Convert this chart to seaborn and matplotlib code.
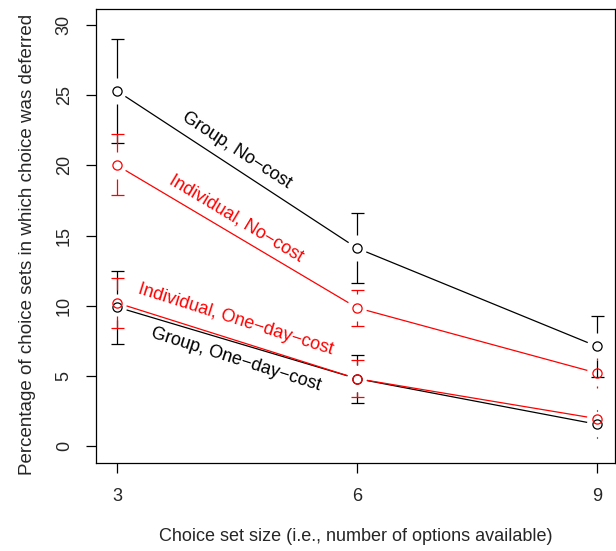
import numpy as np
import pandas as pd
import matplotlib
matplotlib.use("Agg")
import matplotlib.pyplot as plt
import seaborn as sns

# ---- data ----
set_sizes = [3, 6, 9]
group_nocost = [25.3, 14.1, 7.1]
group_nocost_lo = [21.6, 11.6, 4.9]
group_nocost_hi = [29.0, 16.6, 9.3]
indiv_nocost = [20.0, 9.85, 5.2]
indiv_nocost_lo = [17.9, 8.55, 4.1]
indiv_nocost_hi = [22.2, 11.1, 6.3]
group_oneday = [9.9, 4.8, 1.55]
group_oneday_lo = [7.3, 3.05, 0.6]
group_oneday_hi = [12.5, 6.5, 2.55]
indiv_oneday = [10.2, 4.8, 1.95]
indiv_oneday_lo = [8.4, 3.5, 1.5]
indiv_oneday_hi = [12.0, 6.1, 2.4]

labels = ["Group, No\u2212cost", "Individual, No\u2212cost",
          "Individual, One\u2212day\u2212cost", "Group, One\u2212day\u2212cost"]
label_x = [4.49, 4.49, 4.48, 4.49]
label_y = [21.1, 16.2, 9.05, 6.15]
label_rot = [-33, -31, -17.5, -17.5]
label_col = ["black", "red", "red", "black"]

y_ticks = [0, 5, 10, 15, 20, 25, 30]

FS = 13

sns.set_style("ticks")
plt.rcParams["font.family"] = ["Liberation Sans", "DejaVu Sans"]
plt.rcParams["font.size"] = FS

fig = plt.figure(figsize=(6.16, 5.51), dpi=100)
ax = fig.add_axes([96 / 616, 1 - 463 / 551, 519 / 616, 454 / 551])
ax.set_xlim(2.7375, 9.225)
ax.set_ylim(-1.21, 31.14)

LINE_GAP = 10.0
BAR_GAP = 13.3
CAP_HALF = 6.5
LW = 0.9


def draw_series(x, y, lo, hi, color):
    T = ax.transData
    inv = T.inverted()
    pts = T.transform(np.column_stack([x, y]))
    for i in range(len(x) - 1):
        p0, p1 = pts[i], pts[i + 1]
        d = p1 - p0
        u = d / np.hypot(*d)
        seg = inv.transform(np.array([p0 + u * LINE_GAP, p1 - u * LINE_GAP]))
        ax.plot(seg[:, 0], seg[:, 1], color=color, lw=LW, solid_capstyle="butt")
    lo_px = T.transform(np.column_stack([x, lo]))[:, 1]
    hi_px = T.transform(np.column_stack([x, hi]))[:, 1]
    for (px, py), l, h in zip(pts, lo_px, hi_px):
        for start, end in [(py + BAR_GAP, h), (py - BAR_GAP, l)]:
            sgn = 1 if end > py else -1
            length = (end - start) * sgn
            if length <= -1.5:
                continue
            if length < 1:
                s2, e2 = end - sgn * 0.6, end + sgn * 0.6
                seg = inv.transform(np.array([[px, s2], [px, e2]]))
                ax.plot(seg[:, 0], seg[:, 1], color=color, lw=LW, alpha=0.6)
                continue
            seg = inv.transform(np.array([[px, start], [px, end]]))
            ax.plot(seg[:, 0], seg[:, 1], color=color, lw=LW, solid_capstyle="butt")
            if length > 3:
                cap = inv.transform(np.array([[px - CAP_HALF, end], [px + CAP_HALF, end]]))
                ax.plot(cap[:, 0], cap[:, 1], color=color, lw=LW, solid_capstyle="butt")
    df = pd.DataFrame({"x": x, "y": y})
    sns.lineplot(data=df, x="x", y="y", ax=ax, color=color, marker="o",
                 markersize=6.6, markerfacecolor="none", markeredgecolor=color,
                 markeredgewidth=LW, linestyle="", zorder=5)


draw_series(set_sizes, group_nocost, group_nocost_lo, group_nocost_hi, "black")
draw_series(set_sizes, indiv_nocost, indiv_nocost_lo, indiv_nocost_hi, "red")
draw_series(set_sizes, group_oneday, group_oneday_lo, group_oneday_hi, "black")
draw_series(set_sizes, indiv_oneday, indiv_oneday_lo, indiv_oneday_hi, "red")

for t, lx, ly, r, c in zip(labels, label_x, label_y, label_rot, label_col):
    ax.text(lx, ly, t, rotation=r, rotation_mode="anchor", ha="center",
            va="center", color=c, fontsize=FS)

ax.set_xticks(set_sizes)
ax.set_xticklabels([str(s) for s in set_sizes])
ax.set_yticks(y_ticks)
ax.set_yticklabels([str(v) for v in y_ticks], rotation=90, va="center")
ax.tick_params(axis="both", direction="out", length=7.2, width=0.9,
               labelsize=FS, color="black")
ax.tick_params(axis="x", pad=10.5)
ax.tick_params(axis="y", pad=9.5)
for sp in ax.spines.values():
    sp.set_visible(True)
    sp.set_linewidth(0.9)
    sp.set_color("black")

ax.set_xlabel("Choice set size (i.e., number of options available)", fontsize=FS, labelpad=17)
ax.set_ylabel("Percentage of choice sets in which choice was deferred", fontsize=13.5, labelpad=14)
ax.yaxis.label.set_y(0.482)

fig.savefig("out.png", dpi=100)
